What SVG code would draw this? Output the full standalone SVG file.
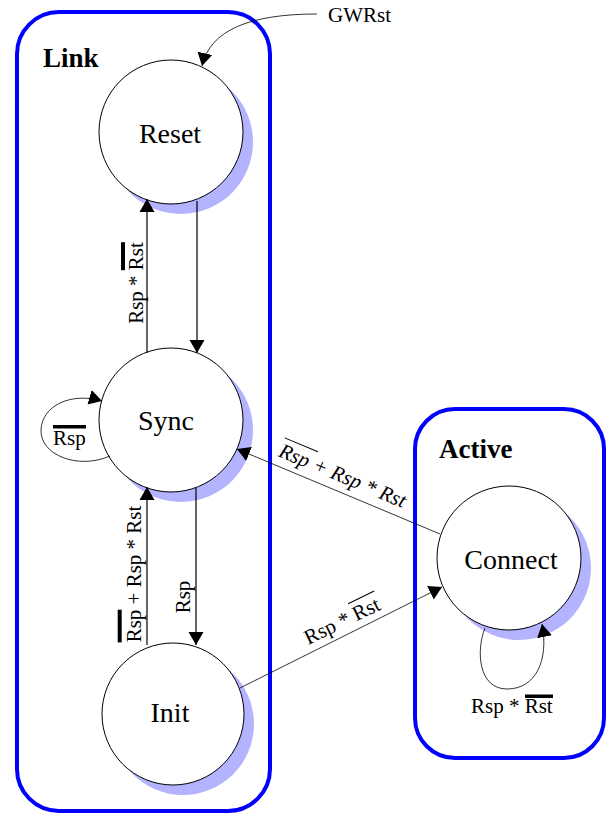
<svg xmlns="http://www.w3.org/2000/svg" width="607" height="815" viewBox="0 0 607 815">
<defs>
<marker id="ah" markerUnits="userSpaceOnUse" markerWidth="14" markerHeight="16" refX="13" refY="8" orient="auto">
<path d="M0,0.5 L13,8 L0,15.5 z" fill="#000"/>
</marker>
<style>
.box{fill:none;stroke:#0000ff;stroke-width:4}
.shadow{fill:#b3b3ff;stroke:none}
.state{fill:#fff;stroke:#000;stroke-width:1}
.name{font-family:"Liberation Serif","Times New Roman",serif;font-size:28px;text-anchor:middle;fill:#000}
.title{font-family:"Liberation Serif","Times New Roman",serif;font-size:27px;font-weight:bold;fill:#000}
.lbl{font-family:"Liberation Serif","Times New Roman",serif;font-size:21px;fill:#000}
.conn{fill:none;stroke:#000;stroke-width:1.2;marker-end:url(#ah)}
.thin{fill:none;stroke:#000;stroke-width:0.8;marker-end:url(#ah)}
.bar{fill:#000}
.tbar{stroke:#000;stroke-width:1}
</style>
</defs>
<rect width="607" height="815" fill="#fff"/>

<g id="link-box">
<rect class="box" x="17" y="12" width="253" height="799" rx="42"/>
<text class="title" x="43" y="67">Link</text>
</g>
<g id="active-box">
<rect class="box" x="415" y="409" width="189" height="349" rx="40"/>
<text class="title" x="439" y="458">Active</text>
</g>

<g id="reset">
<circle class="shadow" cx="181" cy="142" r="72"/>
<circle class="state" cx="171" cy="132" r="72"/>
<text class="name" x="170" y="143">Reset</text>
</g>
<g id="sync">
<circle class="shadow" cx="181" cy="430" r="72"/>
<circle class="state" cx="171" cy="420" r="72"/>
<text class="name" x="166" y="430">Sync</text>
</g>
<g id="init">
<circle class="shadow" cx="183" cy="724" r="71"/>
<circle class="state" cx="173" cy="714" r="71"/>
<text class="name" x="170" y="722">Init</text>
</g>
<g id="connect">
<circle class="shadow" cx="519" cy="568" r="72"/>
<circle class="state" cx="509" cy="558" r="72"/>
<text class="name" x="511" y="569">Connect</text>
</g>

<g id="connectors">
<path class="thin" d="M317,14 C250,14 210,30 202,66"/>
<path class="conn" d="M197,201 L197,353"/>
<path class="conn" d="M147,353 L147,199"/>
<path class="conn" d="M196,488 L196,645"/>
<path class="conn" d="M147,645 L147,487"/>
<path class="thin" d="M110,456 C78,470 40,455 41,430 C42,405 72,392 102,401"/>
<path class="thin" d="M440,534 L237,449"/>
<path class="thin" d="M240,688 L442,587"/>
<path class="thin" d="M485,628 C476,650 478,689 507,689 C536,689 549,660 542,624"/>
</g>

<g id="labels">
<text class="lbl" x="328" y="22">GWRst</text>
<g transform="translate(142.5,283) rotate(-90)">
<text class="lbl" x="0" y="0" text-anchor="middle">Rsp * Rst</text>
<rect class="bar" x="12.8" y="-21.5" width="28" height="4"/>
</g>
<g transform="translate(141,574) rotate(-90)">
<text class="lbl" x="0" y="0" text-anchor="middle">Rsp + Rsp * Rst</text>
<rect class="bar" x="-68.4" y="-23.3" width="32.7" height="4"/>
</g>
<g transform="translate(190,597) rotate(-90)">
<text class="lbl" x="0" y="0" text-anchor="middle">Rsp</text>
</g>
<text class="lbl" x="53" y="445">Rsp</text>
<rect class="bar" x="53" y="425" width="33" height="3.5"/>
<g transform="translate(340,482) rotate(22.6)">
<text class="lbl" x="0" y="0" text-anchor="middle" font-style="italic">Rsp + Rsp * Rst</text>
<line class="tbar" x1="-68" y1="-19.5" x2="-32" y2="-19.5"/>
</g>
<g transform="translate(345,627) rotate(-26)">
<text class="lbl" x="0" y="0" text-anchor="middle">Rsp * Rst</text>
<line class="tbar" x1="13" y1="-19.5" x2="42" y2="-19.5"/>
</g>
<text class="lbl" x="471" y="713">Rsp * Rst</text>
<rect class="bar" x="525" y="694.5" width="28" height="3.5"/>
</g>
</svg>
